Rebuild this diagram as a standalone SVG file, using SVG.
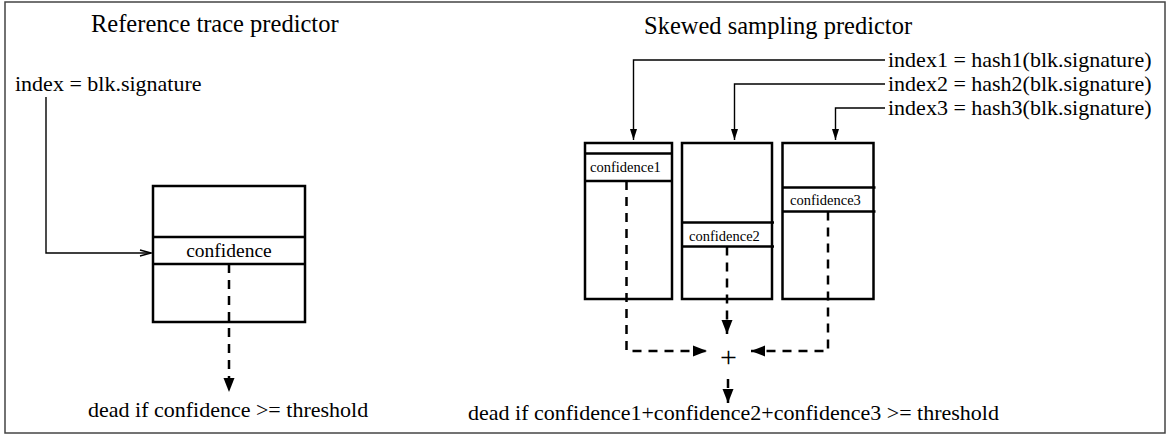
<svg xmlns="http://www.w3.org/2000/svg" width="1166" height="438" viewBox="0 0 1166 438">
<style>
text{font-family:"Liberation Serif","Times New Roman",serif;fill:#000}
.t{font-size:24.5px}
.b{font-size:22px}
.lbl{font-size:19.5px}
.sl{font-size:14.5px}
.plus{font-size:30px}
.box{fill:#fff;stroke:#000;stroke-width:2.5}
.row{stroke:#000;stroke-width:2.5;fill:none}
.solid{fill:none;stroke:#000;stroke-width:1.4}
.dash{fill:none;stroke:#000;stroke-width:2.5;stroke-dasharray:9 7}
</style>
<defs>
<marker id="open" markerUnits="userSpaceOnUse" markerWidth="14" markerHeight="10" refX="12" refY="5" orient="auto">
<path d="M1,2 L12,5 L1,8" fill="none" stroke="#000" stroke-width="1.4"/>
</marker>
<marker id="fill" markerUnits="userSpaceOnUse" markerWidth="12" markerHeight="10" refX="11" refY="5" orient="auto">
<path d="M0,1.5 L11,5 L0,8.5 Z" fill="#000"/>
</marker>
<marker id="big" markerUnits="userSpaceOnUse" markerWidth="16" markerHeight="14" refX="14" refY="7" orient="auto">
<path d="M0,1.5 L14,7 L0,12.5 Z" fill="#000"/>
</marker>
</defs>
<rect x="5" y="2" width="1160" height="431" fill="#fff" stroke="#444" stroke-width="1.5"/>

<g id="left-title"><text class="t" x="91" y="32">Reference trace predictor</text></g>
<g id="left-index"><text class="b" x="15" y="91">index = blk.signature</text></g>
<g id="left-table">
<rect class="box" x="153" y="186" width="152" height="136"/>
<line class="row" x1="153" y1="237" x2="305" y2="237"/>
<line class="row" x1="153" y1="264" x2="305" y2="264"/>
<text class="lbl" x="229" y="257" text-anchor="middle">confidence</text>
</g>
<g id="left-result"><text class="b" x="88" y="417">dead if confidence &gt;= threshold</text></g>

<g id="right-title"><text class="t" x="644" y="34">Skewed sampling predictor</text></g>
<g id="index1"><text class="b" x="888" y="67">index1 = hash1(blk.signature)</text></g>
<g id="index2"><text class="b" x="888" y="91">index2 = hash2(blk.signature)</text></g>
<g id="index3"><text class="b" x="888" y="115">index3 = hash3(blk.signature)</text></g>
<g id="table1">
<rect class="box" x="585" y="143" width="87" height="156"/>
<line class="row" x1="584" y1="153.5" x2="673" y2="153.5"/>
<line class="row" x1="584" y1="181" x2="673" y2="181"/>
<text class="sl" x="590" y="172">confidence1</text>
</g>
<g id="table2">
<rect class="box" x="682" y="143" width="90" height="156"/>
<line class="row" x1="682" y1="222.5" x2="774" y2="222.5"/>
<line class="row" x1="682" y1="246.5" x2="774" y2="246.5"/>
<text class="sl" x="689" y="240.5">confidence2</text>
</g>
<g id="table3">
<rect class="box" x="782.5" y="143" width="91" height="156"/>
<line class="row" x1="782.5" y1="187.5" x2="875.5" y2="187.5"/>
<line class="row" x1="782.5" y1="211.5" x2="875.5" y2="211.5"/>
<text class="sl" x="790" y="205">confidence3</text>
</g>
<g id="sum"><text class="plus" x="728.5" y="367" text-anchor="middle">+</text></g>
<g id="right-result"><text class="b" x="468" y="420">dead if confidence1+confidence2+confidence3 &gt;= threshold</text></g>

<g id="connectors">
<path class="solid" d="M46,97 V253 H151" marker-end="url(#open)"/>
<path class="dash" d="M229,264 V392" marker-end="url(#big)"/>
<path class="solid" d="M885,60 H633.5 V140" marker-end="url(#fill)"/>
<path class="solid" d="M885,84 H734.5 V140" marker-end="url(#fill)"/>
<path class="solid" d="M885,108 H835.5 V140" marker-end="url(#fill)"/>
<path class="dash" d="M626.5,181 V351 H707" marker-end="url(#big)"/>
<path class="dash" d="M727,246.5 V334" marker-end="url(#big)"/>
<path class="dash" d="M828,211.5 V351 H751" marker-end="url(#big)"/>
<path class="dash" d="M728,379 V403" marker-end="url(#big)"/>
</g>
</svg>
